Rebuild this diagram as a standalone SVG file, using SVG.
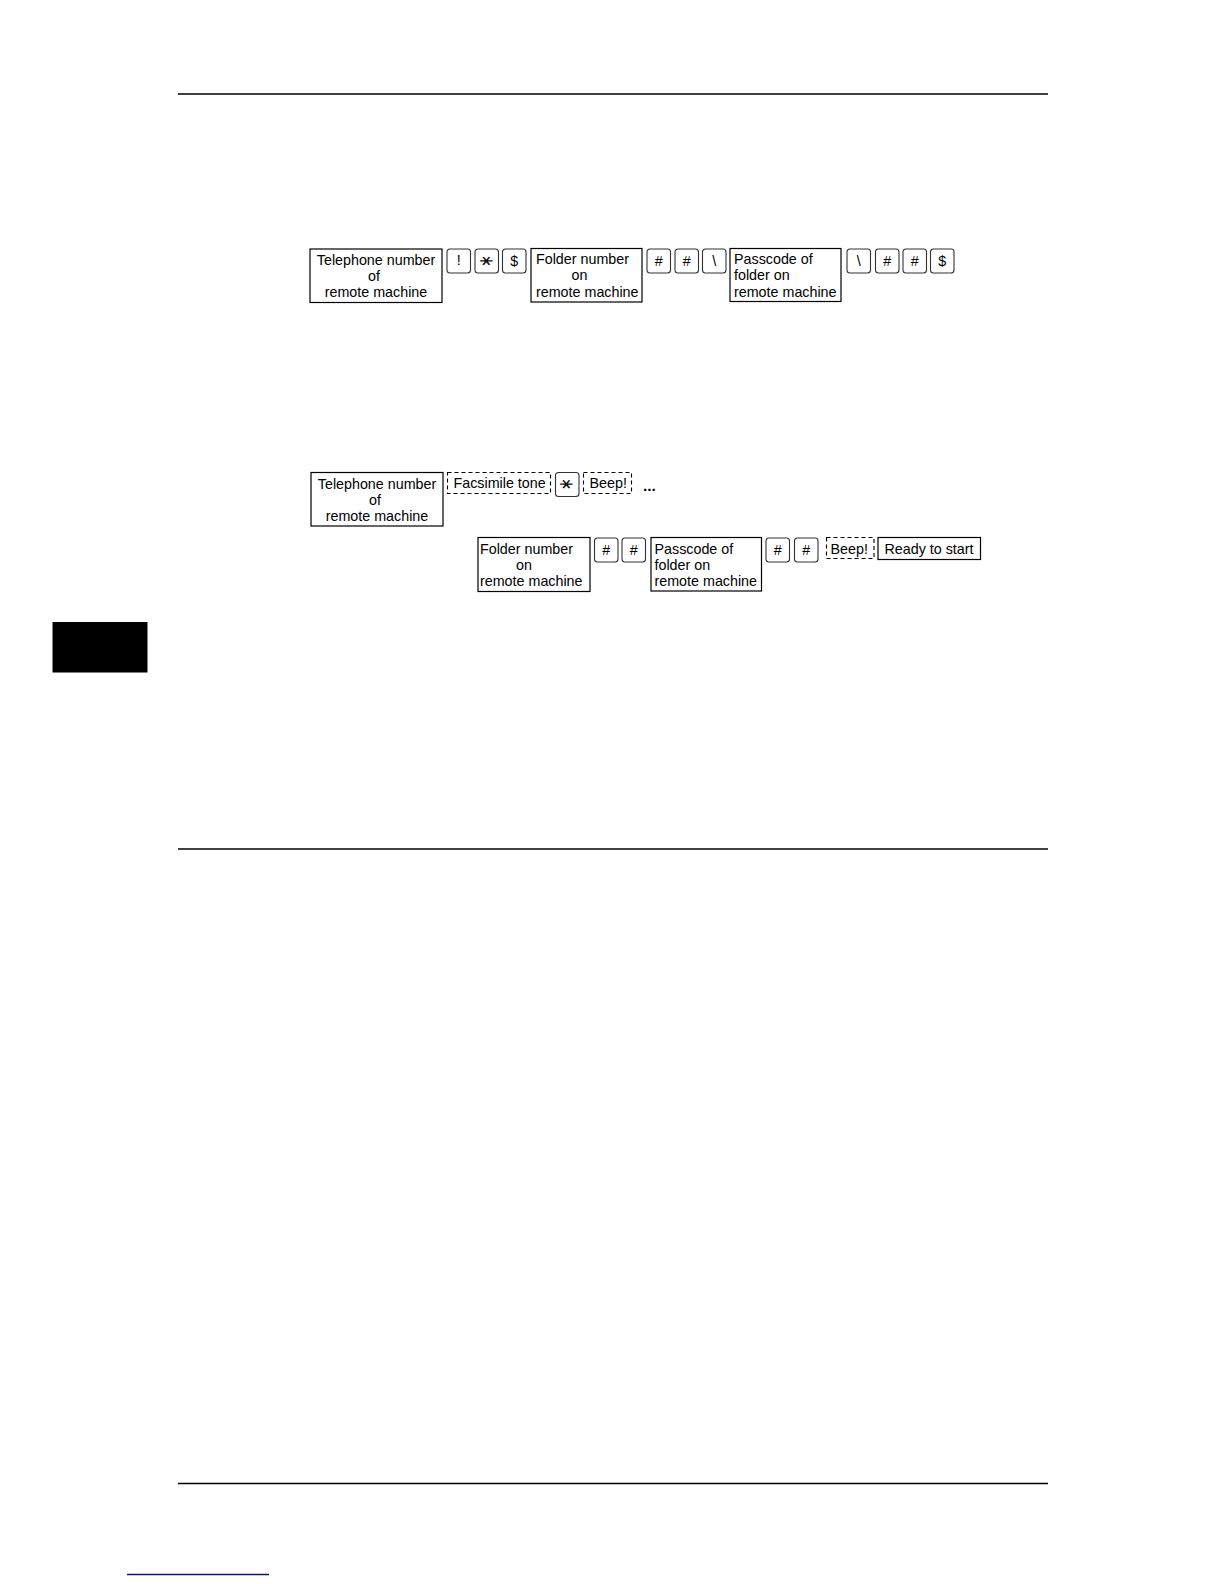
<svg xmlns="http://www.w3.org/2000/svg" width="1224" height="1584" viewBox="0 0 1224 1584">
<style>
text{font-family:"Liberation Sans",Arial,sans-serif;font-size:14.3px;fill:#000}
.box{fill:#fff;stroke:#000;stroke-width:1.2}
.dash{fill:#fff;stroke:#000;stroke-width:1.1;stroke-dasharray:4 3}
.key{fill:#fff;stroke:#333;stroke-width:1.1}
.mid{text-anchor:middle}
.ast{font-family:"DejaVu Sans",sans-serif;font-size:20px;text-anchor:middle;fill:#111}
.rule{stroke:#000;stroke-width:1.3}
</style>
<defs>
<rect id="k" class="key" width="23.5" height="24" rx="3"/>
</defs>
<rect width="1224" height="1584" fill="#fff"/>
<g id="page">
<line class="rule" x1="178" y1="94" x2="1048" y2="94"/>
<line class="rule" x1="178" y1="849" x2="1048" y2="849"/>
<line class="rule" x1="178" y1="1483.5" x2="1048" y2="1483.5"/>
<rect x="52.5" y="622" width="95" height="50.5" fill="#000"/>
<line x1="127" y1="1574.5" x2="269" y2="1574.5" stroke="#14147a" stroke-width="1.4"/>
</g>
<g id="row1">
<g id="r1-tel"><rect class="box" x="310" y="249" width="132" height="53.5"/>
<text class="mid" x="376" y="264.5">Telephone number</text><text x="368" y="280.8">of</text><text class="mid" x="376" y="297">remote machine</text></g>
<g id="r1-k1"><use href="#k" x="447" y="249"/><text class="mid" x="458.7" y="265">!</text></g>
<g id="r1-k2"><use href="#k" x="475" y="249"/><text class="ast" transform="translate(486.7 261) scale(1 0.72) rotate(90)" x="0" y="6.7">∗</text></g>
<g id="r1-k3"><use href="#k" x="502.5" y="249"/><text class="mid" x="514.2" y="265.5">$</text></g>
<g id="r1-folder"><rect class="box" x="531" y="248.5" width="111" height="53.5"/>
<text x="536" y="263.5">Folder number</text><text x="571.5" y="280">on</text><text x="536" y="296.8">remote machine</text></g>
<g id="r1-k4"><use href="#k" x="647" y="249"/><text class="mid" x="658.7" y="265.5">#</text></g>
<g id="r1-k5"><use href="#k" x="675" y="249"/><text class="mid" x="686.7" y="265.5">#</text></g>
<g id="r1-k6"><use href="#k" x="702.5" y="249"/><text class="mid" x="714.2" y="266">\</text></g>
<g id="r1-pass"><rect class="box" x="730" y="248.5" width="111" height="53"/>
<text x="734" y="263.5">Passcode of</text><text x="734" y="280">folder on</text><text x="734" y="296.5">remote machine</text></g>
<g id="r1-k7"><use href="#k" x="847" y="249"/><text class="mid" x="858.7" y="266">\</text></g>
<g id="r1-k8"><use href="#k" x="875.5" y="249"/><text class="mid" x="887.2" y="265.5">#</text></g>
<g id="r1-k9"><use href="#k" x="903" y="249"/><text class="mid" x="914.7" y="265.5">#</text></g>
<g id="r1-k10"><use href="#k" x="930.5" y="249"/><text class="mid" x="942.2" y="265.5">$</text></g>
</g>
<g id="row2">
<g id="r2-tel"><rect class="box" x="311" y="472.5" width="132" height="53.5"/>
<text class="mid" x="377" y="488.7">Telephone number</text><text x="369" y="504.7">of</text><text class="mid" x="377" y="521.3">remote machine</text></g>
<g id="r2-fax"><rect class="dash" x="447.5" y="472.5" width="103" height="21"/><text x="453.5" y="488.2">Facsimile tone</text></g>
<g id="r2-k1"><use href="#k" x="555.5" y="472.5" height="23.5"/><text class="ast" transform="translate(567.2 484.3) scale(1 0.72) rotate(90)" x="0" y="6.7">∗</text></g>
<g id="r2-beep1"><rect class="dash" x="583.5" y="472.5" width="48" height="21"/><text x="589.5" y="488.2">Beep!</text></g>
<g id="r2-more"><text x="643" y="491" style="font-size:15.5px;font-weight:bold">...</text></g>
<g id="r2-folder"><rect class="box" x="478" y="537.5" width="112" height="54"/>
<text x="480" y="553.7">Folder number</text><text x="516" y="569.7">on</text><text x="480" y="586.3">remote machine</text></g>
<g id="r2-k2"><use href="#k" x="594.5" y="538"/><text class="mid" x="606.2" y="554.5">#</text></g>
<g id="r2-k3"><use href="#k" x="622" y="538"/><text class="mid" x="633.7" y="554.5">#</text></g>
<g id="r2-pass"><rect class="box" x="651" y="537.5" width="110.5" height="53.5"/>
<text x="654.5" y="553.5">Passcode of</text><text x="654.5" y="569.8">folder on</text><text x="654.5" y="586.2">remote machine</text></g>
<g id="r2-k4"><use href="#k" x="766" y="538"/><text class="mid" x="777.7" y="554.5">#</text></g>
<g id="r2-k5"><use href="#k" x="794.5" y="538"/><text class="mid" x="806.2" y="554.5">#</text></g>
<g id="r2-beep2"><rect class="dash" x="826.5" y="537.5" width="47.5" height="21"/><text x="830.5" y="553.5">Beep!</text></g>
<g id="r2-ready"><rect class="box" x="878" y="537.5" width="102.5" height="22"/><text x="884.5" y="553.5">Ready to start</text></g>
</g>
</svg>
